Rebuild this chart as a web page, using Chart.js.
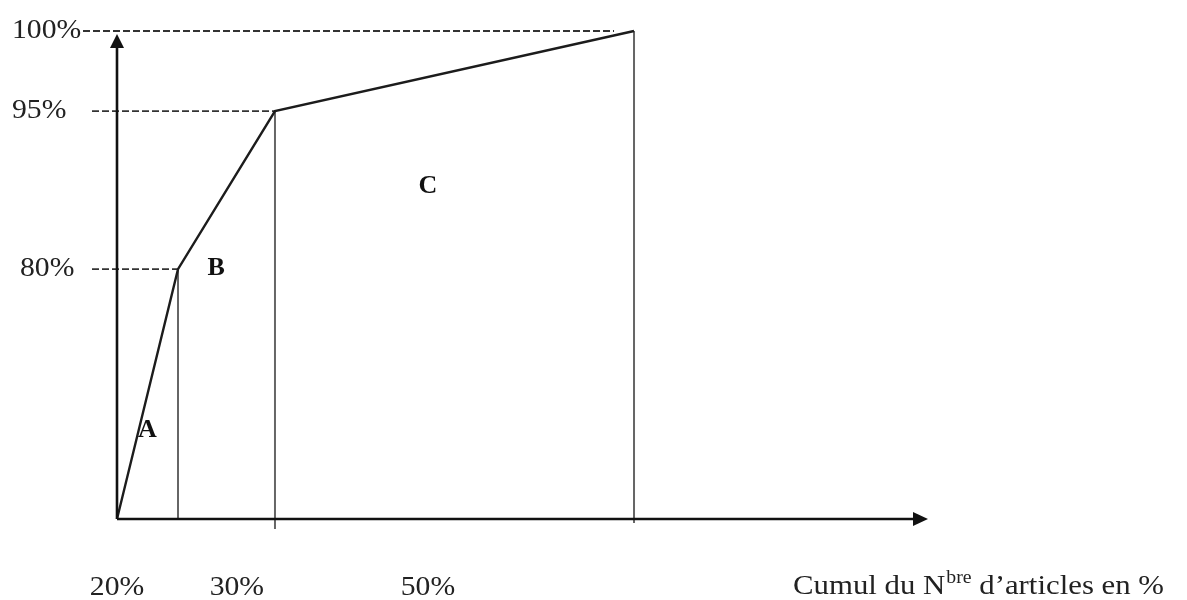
<!DOCTYPE html>
<html>
<head>
<meta charset="utf-8">
<script src="https://cdn.jsdelivr.net/npm/chart.js@4/dist/chart.umd.min.js"></script>
<style>
html, body { margin: 0; padding: 0; background: #fff; }
#wrap { width: 1187px; height: 600px; }
</style>
</head>
<body>
<div id="wrap"><canvas id="abc" width="1187" height="600"></canvas></div>
<script>
// courbe ABC : part des articles et part de la valeur par classe
var classes = ['A', 'B', 'C'];
var articleShare = [20, 30, 50];
var valueShare = [80, 15, 5];

var yTickLabels = ['80%', '95%', '100%'];
var xTickLabels = ['20%', '30%', '50%'];
var xTitle = ['Cumul du N', 'bre', '\u00a0d\u2019articles en %'];

// cumuls (on part de l'origine)
var cumX = [0], cumY = [0];
for (var i = 0; i < classes.length; i++) {
    cumX.push(cumX[i] + articleShare[i]);
    cumY.push(cumY[i] + valueShare[i]);
}

// le dessin n'est pas a l'echelle : valeur -> fraction de l'axe
var knots = {
    x: [[0, 0], [20, 0.0752], [50, 0.1948], [100, 0.6375]],
    y: [[0, 0], [80, 0.512], [95, 0.836], [100, 1]]
};

function interp(pts, v, a, b) {
    for (var i = 1; i < pts.length; i++) {
        if (v <= pts[i][a] || i == pts.length - 1) {
            var p = pts[i - 1], q = pts[i];
            return p[b] + (v - p[a]) * (q[b] - p[b]) / (q[a] - p[a]);
        }
    }
}

class KnotScale extends Chart.LinearScale {
    static id = 'knots';
    getPixelForValue(v) {
        if (v === null || v === undefined) return NaN;
        return this.getPixelForDecimal(interp(knots[this.axis], v, 0, 1));
    }
    getValueForPixel(p) {
        return interp(knots[this.axis], this.getDecimalForPixel(p), 1, 0);
    }
}
Chart.register(KnotScale);

var SERIF = '"Liberation Serif", "Times New Roman", serif';

function stretchText(ctx, txt, x, y, sx, align) {
    var w = ctx.measureText(txt).width * sx;
    var left = align == 'center' ? x - w / 2 : (align == 'right' ? x - w : x);
    ctx.save();
    ctx.translate(left, y);
    ctx.scale(sx, 1);
    ctx.textAlign = 'left';
    ctx.fillText(txt, 0, 0);
    ctx.restore();
    return w;
}

function arrow(ctx, x, y, dir, len, half) {
    ctx.beginPath();
    if (dir == 'up') {
        ctx.moveTo(x, y);
        ctx.lineTo(x - half, y + len);
        ctx.lineTo(x + half, y + len);
    } else {
        ctx.moveTo(x, y);
        ctx.lineTo(x - len, y - half);
        ctx.lineTo(x - len, y + half);
    }
    ctx.closePath();
    ctx.fill();
}

var abcFrame = {
    id: 'abcFrame',
    beforeDatasetsDraw: function(chart, args, o) {
        var ctx = chart.ctx, xs = chart.scales.x, ys = chart.scales.y;
        var a = chart.chartArea;
        ctx.save();
        // traits verticaux
        ctx.strokeStyle = '#666';
        ctx.lineWidth = 2;
        for (var i = 1; i < cumX.length; i++) {
            var px = xs.getPixelForValue(cumX[i]);
            ctx.beginPath();
            ctx.moveTo(px, ys.getPixelForValue(cumY[i]));
            ctx.lineTo(px, a.bottom + o.dropExtra[i - 1]);
            ctx.stroke();
        }
        // pointilles horizontaux
        ctx.strokeStyle = '#333';
        ctx.lineWidth = 1.8;
        ctx.setLineDash([7, 3]);
        for (var i = 1; i < cumY.length; i++) {
            var py = ys.getPixelForValue(cumY[i]);
            ctx.beginPath();
            ctx.moveTo(o.dashStart[i - 1], py);
            ctx.lineTo(xs.getPixelForValue(cumX[i]) + o.dashEnd[i - 1], py);
            ctx.stroke();
        }
        ctx.restore();
    },
    afterDatasetsDraw: function(chart, args, o) {
        var ctx = chart.ctx, xs = chart.scales.x, ys = chart.scales.y;
        var a = chart.chartArea;
        ctx.save();
        // axes avec fleches
        ctx.strokeStyle = '#111';
        ctx.fillStyle = '#111';
        ctx.lineWidth = 2.6;
        ctx.beginPath();
        ctx.moveTo(a.left, a.bottom);
        ctx.lineTo(a.left, a.top + 10);
        ctx.moveTo(a.left, a.bottom);
        ctx.lineTo(a.right - 8, a.bottom);
        ctx.stroke();
        arrow(ctx, a.left, a.top + 3, 'up', 14, 7);
        arrow(ctx, a.right, a.bottom, 'right', 15, 7);

        // graduations de l'axe des valeurs
        ctx.fillStyle = '#222';
        ctx.font = '28px ' + SERIF;
        ctx.textBaseline = 'alphabetic';
        for (var i = 0; i < yTickLabels.length; i++) {
            var py = ys.getPixelForValue(cumY[i + 1]);
            stretchText(ctx, yTickLabels[i], o.yLabelLeft[i], py + 7, 1.06, 'left');
        }
        // parts d'articles sous l'axe
        for (var i = 0; i < xTickLabels.length; i++) {
            stretchText(ctx, xTickLabels[i], xs.getPixelForValue(o.xLabelAt[i]), a.bottom + 76, 1.06, 'center');
        }
        // titre de l'axe avec exposant
        var tx = o.titleLeft, ty = a.bottom + 75;
        ctx.font = '28px ' + SERIF;
        tx += stretchText(ctx, xTitle[0], tx, ty, 1.1, 'left') + 1;
        ctx.font = '18px ' + SERIF;
        tx += stretchText(ctx, xTitle[1], tx, ty - 11, 1.1, 'left');
        ctx.font = '28px ' + SERIF;
        stretchText(ctx, xTitle[2], tx, ty, 1.1, 'left');

        // lettres des classes
        ctx.fillStyle = '#111';
        ctx.font = 'bold 26px ' + SERIF;
        for (var i = 0; i < classes.length; i++) {
            var p = o.classAt[i];
            stretchText(ctx, classes[i], xs.getPixelForValue(p[0]), ys.getPixelForValue(p[1]), 1.0, 'center');
        }
        ctx.restore();
    }
};

new Chart(document.getElementById('abc'), {
    type: 'line',
    data: {
        datasets: [{
            data: cumX.map(function(x, i) { return { x: x, y: cumY[i] }; }),
            borderColor: '#1c1c1c',
            borderWidth: 2.4,
            pointRadius: 0,
            tension: 0,
            fill: false,
            clip: false
        }]
    },
    options: {
        responsive: false,
        animation: false,
        events: [],
        layout: { padding: { left: 117, right: 1187 - 928, top: 31, bottom: 600 - 519 } },
        scales: {
            x: { type: 'knots', min: 0, max: 100, display: false },
            y: { type: 'knots', min: 0, max: 100, display: false }
        },
        plugins: {
            legend: { display: false },
            tooltip: { enabled: false },
            abcFrame: {
                dropExtra: [0, 10, 4],
                dashStart: [92, 92, 83],
                dashEnd: [0, 0, -20],
                yLabelLeft: [20, 12, 12],
                xLabelAt: [0, 38.2, 71.3],
                titleLeft: 793,
                classAt: [[10, 26.2], [31.8, 78.1], [71.3, 87.2]]
            }
        }
    },
    plugins: [abcFrame]
});
</script>
</body>
</html>
